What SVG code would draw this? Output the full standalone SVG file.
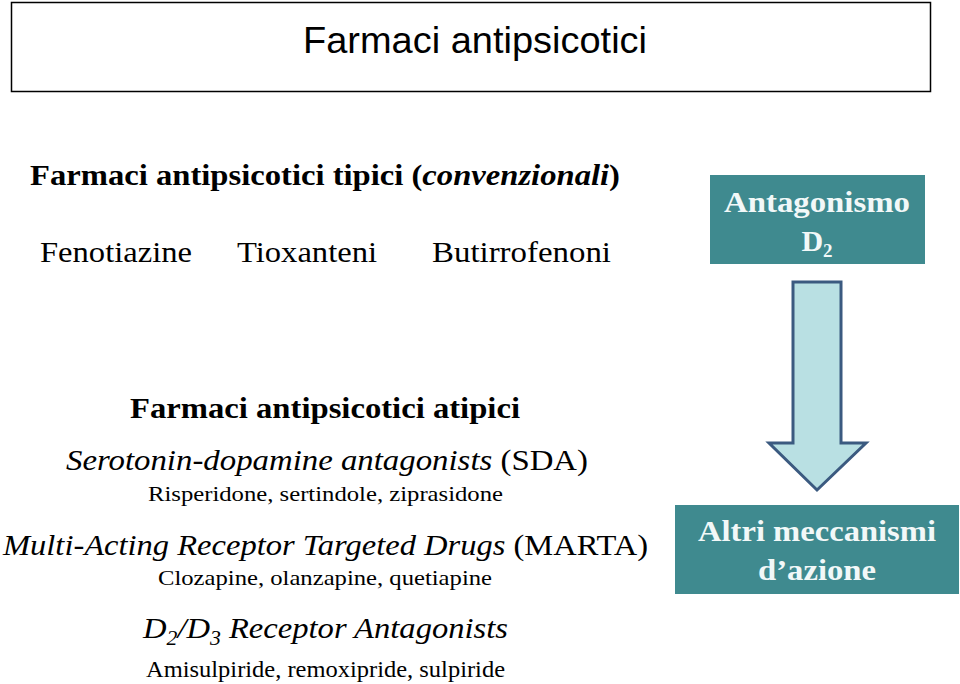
<svg xmlns="http://www.w3.org/2000/svg" width="960" height="684" viewBox="0 0 960 684">
<style>
.t{font-family:'Liberation Serif','Times New Roman',Times,serif;fill:#000}
.b{font-weight:bold}
.i{font-style:italic}
.w{font-family:'Liberation Serif','Times New Roman',Times,serif;font-weight:bold;fill:#f2f8f8;text-anchor:middle}
.box{fill:#3f8a8f}
</style>
<rect width="960" height="684" fill="#fff"/>
<g id="title">
<rect x="11.5" y="2.5" width="919" height="89" fill="#fff" stroke="#000" stroke-width="1.5"/>
<text x="475" y="53" font-family="'Liberation Sans',Arial,sans-serif" font-size="37" text-anchor="middle" textLength="344" lengthAdjust="spacingAndGlyphs">Farmaci antipsicotici</text>
</g>
<g id="tipici">
<text class="t b" x="30" y="185" font-size="29" textLength="590" lengthAdjust="spacingAndGlyphs">Farmaci antipsicotici tipici (<tspan class="i">convenzionali</tspan>)</text>
<text class="t" x="40" y="262" font-size="29" textLength="152" lengthAdjust="spacingAndGlyphs">Fenotiazine</text>
<text class="t" x="237" y="262" font-size="29" textLength="140" lengthAdjust="spacingAndGlyphs">Tioxanteni</text>
<text class="t" x="432" y="262" font-size="29" textLength="179" lengthAdjust="spacingAndGlyphs">Butirrofenoni</text>
</g>
<g id="atipici">
<text class="t b" x="130" y="418" font-size="29" textLength="390" lengthAdjust="spacingAndGlyphs">Farmaci antipsicotici atipici</text>
<text class="t" x="66" y="470" font-size="30" textLength="522" lengthAdjust="spacingAndGlyphs"><tspan class="i">Serotonin-dopamine antagonists</tspan> (SDA)</text>
<text class="t" x="148" y="501" font-size="22" textLength="355" lengthAdjust="spacingAndGlyphs">Risperidone, sertindole, ziprasidone</text>
<text class="t" x="3" y="555" font-size="30" textLength="645" lengthAdjust="spacingAndGlyphs"><tspan class="i">Multi-Acting Receptor Targeted Drugs</tspan> (MARTA)</text>
<text class="t" x="158" y="585" font-size="22" textLength="334" lengthAdjust="spacingAndGlyphs">Clozapine, olanzapine, quetiapine</text>
<text class="t i" x="143" y="638" font-size="30" textLength="365" lengthAdjust="spacingAndGlyphs">D<tspan font-size="20" dy="7">2</tspan><tspan dy="-7">/D</tspan><tspan font-size="20" dy="7">3</tspan><tspan dy="-7"> Receptor Antagonists</tspan></text>
<text class="t" x="146" y="677" font-size="23" textLength="359" lengthAdjust="spacingAndGlyphs">Amisulpiride, remoxipride, sulpiride</text>
</g>
<g id="antagonismo">
<rect class="box" x="710" y="175" width="215" height="89"/>
<text class="w" x="817" y="212" font-size="30" textLength="186" lengthAdjust="spacingAndGlyphs">Antagonismo</text>
<text class="w" x="817" y="251" font-size="30">D<tspan font-size="19" dy="6">2</tspan></text>
</g>
<g id="connectors">
<path d="M793 282 H841 V443 H866 L817 490 L769 443 H793 Z" fill="#b9e0e3" stroke="#3b5a80" stroke-width="3" stroke-linejoin="miter"/>
</g>
<g id="altri">
<rect class="box" x="675" y="505" width="284" height="89"/>
<text class="w" x="817" y="541" font-size="30" textLength="238" lengthAdjust="spacingAndGlyphs">Altri meccanismi</text>
<text class="w" x="817" y="580" font-size="30" textLength="118" lengthAdjust="spacingAndGlyphs">d’azione</text>
</g>
</svg>
